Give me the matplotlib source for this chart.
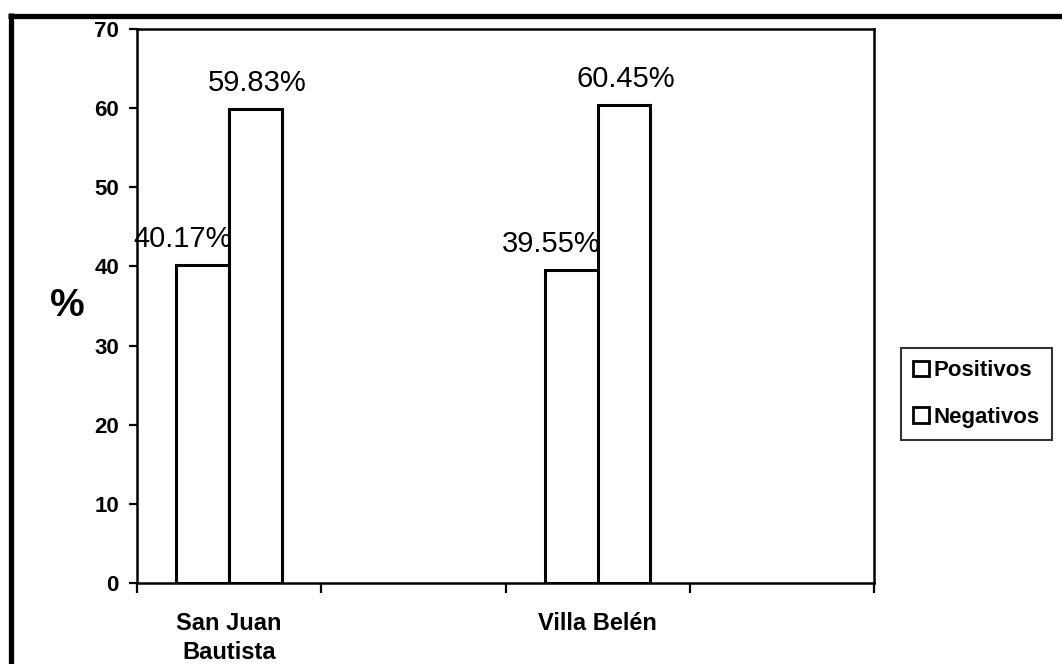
import matplotlib
matplotlib.use("Agg")
import matplotlib.pyplot as plt
from matplotlib.lines import Line2D
from matplotlib.patches import Patch
import numpy as np

plt.rcParams['font.family'] = ['Liberation Sans', 'DejaVu Sans']

# Data
categories = ["San Juan\nBautista", "Villa Belén"]
series_names = ["Positivos", "Negativos"]
positivos = [40.17, 39.55]
negativos = [59.83, 60.45]
yticks = [0, 10, 20, 30, 40, 50, 60, 70]

W, H, DPI = 1062, 664, 100
fig = plt.figure(figsize=(W / DPI, H / DPI), dpi=DPI, facecolor="white")

ax = fig.add_axes([137 / W, 1 - 583 / H, 737 / W, 554 / H])

# Each category occupies every other slot on a four-slot axis
slots = np.arange(len(categories)) * 2
bw = 1 / 3.5

bars_pos = ax.bar(slots - bw / 2, positivos, width=bw, facecolor="white",
                  edgecolor="black", linewidth=2.2, label=series_names[0], zorder=3)
bars_neg = ax.bar(slots + bw / 2, negativos, width=bw, facecolor="white",
                  edgecolor="black", linewidth=2.2, label=series_names[1], zorder=3)

# Value labels
for b, v in zip(bars_pos, positivos):
    ax.annotate(f"{v:.2f}%", xy=(b.get_x() + b.get_width(), v),
                xytext=(3, 26), textcoords="offset pixels",
                ha="right", va="center", fontsize=21, color="black")
for b, v in zip(bars_neg, negativos):
    ax.annotate(f"{v:.2f}%", xy=(b.get_x() + b.get_width() / 2, v),
                xytext=(2, 26), textcoords="offset pixels",
                ha="center", va="center", fontsize=21, color="black")

ax.set_xlim(-0.5, 3.5)
ax.set_ylim(0, 70)

# Slot boundaries as major ticks, category names as unticked minor labels
ax.set_xticks(np.arange(-0.5, 3.6, 1.0))
ax.set_xticklabels([])
ax.set_xticks(slots, minor=True)
ax.set_xticklabels(categories, minor=True, fontsize=17, fontweight="bold",
                   linespacing=1.3)
ax.tick_params(axis="x", which="major", direction="out", length=7, width=1.6)
ax.tick_params(axis="x", which="minor", length=0, pad=21)

ax.set_yticks(yticks)
ax.set_yticklabels([str(t) for t in yticks], fontsize=16, fontweight="bold")
ax.tick_params(axis="y", direction="out", length=6, width=1.6, pad=7)

for s in ax.spines.values():
    s.set_linewidth(1.8)
    s.set_color("black")

ax.set_ylabel("%", rotation=0, fontsize=28, fontweight="bold", va="center", ha="center")
ax.yaxis.set_label_coords(-0.095, 0.5)

# Legend
handles = [Patch(facecolor="white", edgecolor="black", linewidth=2.0, label=n)
           for n in series_names]
leg = fig.legend(handles=handles, loc="upper left",
                 bbox_to_anchor=(901 / W, 1 - 348 / H),
                 frameon=True, fancybox=False, shadow=False,
                 prop={"size": 16, "weight": "bold"},
                 handlelength=0.7, handleheight=0.7, handletextpad=0.2,
                 labelspacing=1.15, borderpad=0.55, borderaxespad=0)
leg.get_frame().set_edgecolor("black")
leg.get_frame().set_linewidth(1.5)

# Thick outer frame along the top and left edges
fig.add_artist(Line2D([7.9 / W, 1.0], [1 - 15.5 / H, 1 - 15.5 / H],
                      transform=fig.transFigure, color="black", linewidth=3.8,
                      solid_capstyle="butt"))
fig.add_artist(Line2D([10.5 / W, 10.5 / W], [0.0, 1 - 12.9 / H],
                      transform=fig.transFigure, color="black", linewidth=3.8,
                      solid_capstyle="butt"))

fig.savefig("out.png", dpi=DPI, facecolor="white")
